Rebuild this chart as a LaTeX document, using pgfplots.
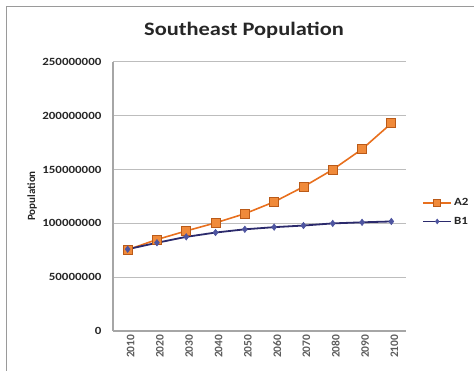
\documentclass[border=0pt]{standalone}
\usepackage{fontspec}
\setmainfont{Carlito}[FakeStretch=1.18]
\newfontfamily\uprightfont{Carlito}
\usepackage{pgfplots}
\pgfplotsset{compat=1.18}

\definecolor{aline}{HTML}{E8701E}
\definecolor{afill}{HTML}{F08A3A}
\definecolor{bline}{HTML}{2B2A6C}
\definecolor{bfill}{HTML}{4E55A0}
\definecolor{frame}{HTML}{9A9A9A}
\definecolor{gridc}{HTML}{BDBDBD}
\definecolor{axisc}{HTML}{A6A6A6}
\definecolor{txt}{HTML}{262626}

\begin{document}
\begin{tikzpicture}
\useasboundingbox (0,0) rectangle (474pt,371pt);
% outer chart frame
\draw[frame, line width=1pt] (6pt,-2pt) -- (6pt,364pt) -- (476pt,364pt);
% chart title
\node[font=\fontsize{19}{22}\selectfont\bfseries, text=black!85] at (244pt,341pt) {Southeast Population};
% rotated axis title
\node[rotate=90, font=\uprightfont\fontsize{11}{13}\selectfont\bfseries, text=txt] at (32pt,175pt) {Population};

\begin{axis}[
  at={(113pt,40pt)}, anchor=south west,
  scale only axis, width=293pt, height=269pt,
  xmin=0.5, xmax=10.5, ymin=0, ymax=250000000,
  xtick={1,2,3,4,5,6,7,8,9,10},
  xticklabels={2010,2020,2030,2040,2050,2060,2070,2080,2090,2100},
  ytick={0,50000000,100000000,150000000,200000000,250000000},
  scaled y ticks=false,
  axis x line*=bottom, axis y line*=left,
  x axis line style={-, axisc, line width=1.8pt},
  y axis line style={-, axisc, line width=1.3pt},
  ymajorgrids, grid style={gridc, line width=1pt},
  major tick length=0pt,
  /pgf/number format/assume math mode=true,
  yticklabel style={/pgf/number format/fixed, /pgf/number format/1000 sep={},
    font=\fontsize{11}{13}\selectfont\bfseries, text=txt, xshift=-8pt},
  xticklabel style={rotate=90, anchor=east, font=\uprightfont\fontsize{11.5}{13}\selectfont\bfseries,
    text=txt!75, yshift=-3pt},
  legend style={at={(1.055,0.442)}, anchor=west, draw=none, fill=none, inner sep=0pt,
    font=\fontsize{11}{13}\selectfont\bfseries, text=txt, row sep=6pt,
    /tikz/every even column/.append style={column sep=0pt}},
  legend cell align=left,
  legend image code/.code={%
    \draw[mark repeat=2, mark phase=2, every mark/.append style={scale=0.75}]
      plot coordinates {(0pt,0pt) (14pt,0pt) (28pt,0pt)};},
]
\addplot[aline, line width=1.6pt, mark=square*, mark size=4.5pt,
  mark options={fill=afill, draw=aline!80!black, line width=0.8pt}]
  coordinates {(1,75500000) (2,85000000) (3,93000000) (4,100500000) (5,109000000)
               (6,120000000) (7,134000000) (8,150000000) (9,169000000) (10,193000000)};
\addlegendentry{A2}
\addplot[bline, line width=1.8pt, mark=diamond*, mark size=3.2pt,
  mark options={fill=bfill, draw=bfill, line width=0.6pt}]
  coordinates {(1,76000000) (2,82000000) (3,87500000) (4,91500000) (5,94500000)
               (6,96500000) (7,98000000) (8,100000000) (9,101000000) (10,101800000)};
\addlegendentry{B1}
\end{axis}
\end{tikzpicture}
\end{document}
